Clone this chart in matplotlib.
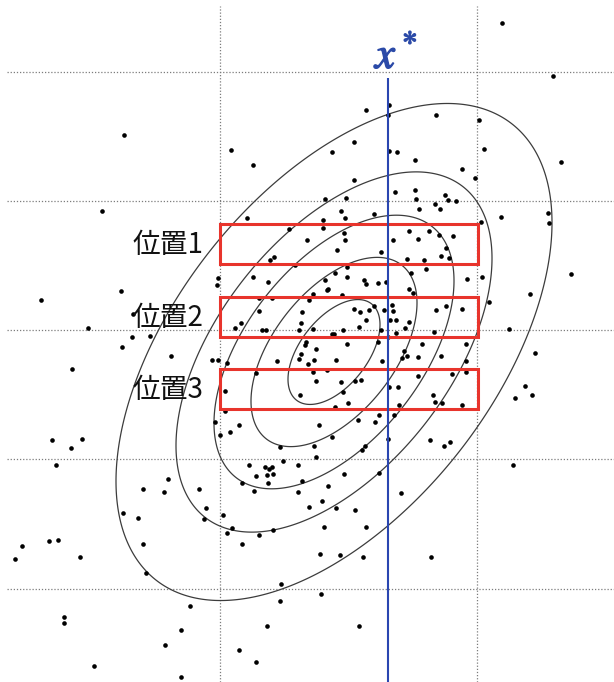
import numpy as np
import matplotlib.pyplot as plt
import matplotlib.patheffects as pe
from matplotlib.patches import Rectangle

plt.rcParams['font.family'] = ['Noto Sans CJK JP', 'DejaVu Sans']
plt.rcParams['mathtext.fontset'] = 'stix'

# sample points (x to the right, y downwards)
pts = [
    (124, 135), (231, 150), (253, 165), (102, 211), (247, 218), (289, 229),
    (502, 23), (553, 76), (366, 110), (389, 105), (388, 115), (436, 115), (479, 120),
    (354, 142), (332, 152), (389, 151), (397, 152), (415, 160), (484, 149), (561, 162),
    (462, 169), (475, 178), (354, 180), (395, 192), (415, 190), (325, 199), (346, 198),
    (416, 199), (445, 195), (448, 200), (456, 201), (435, 204), (440, 209), (419, 209),
    (341, 211), (374, 214), (345, 218), (323, 220), (323, 228), (501, 217), (548, 213),
    (549, 223), (481, 222),
    (307, 240), (270, 260), (274, 257), (295, 265), (218, 278), (217, 285), (253, 277),
    (268, 282), (121, 291), (41, 300), (259, 298), (272, 298), (309, 300), (259, 311),
    (302, 312), (133, 314), (241, 323), (235, 328), (301, 323), (88, 328), (262, 330),
    (266, 330), (299, 330), (132, 337), (150, 336), (122, 347), (306, 342), (305, 345),
    (171, 356), (212, 360), (218, 360), (227, 363), (301, 354), (299, 359), (277, 361),
    (308, 364), (72, 369), (256, 373), (225, 391), (300, 395), (225, 411), (215, 422),
    (239, 425), (230, 432), (220, 435), (52, 440), (82, 439), (71, 448), (280, 447),
    (344, 233), (345, 240), (409, 231), (429, 231), (439, 235), (453, 236), (393, 240),
    (418, 239), (337, 250), (381, 252), (446, 248), (441, 256), (407, 259), (424, 260),
    (449, 258), (347, 267), (426, 269), (335, 273), (347, 277), (411, 273), (467, 279),
    (482, 277), (571, 274), (325, 280), (364, 280), (366, 284), (378, 283), (386, 282),
    (328, 289), (327, 290), (409, 289), (413, 293), (313, 294), (342, 295), (530, 294),
    (489, 302), (354, 309), (360, 312), (369, 310), (374, 306), (384, 310), (392, 305),
    (393, 311), (436, 310), (446, 306), (462, 309), (366, 320), (390, 320), (396, 320),
    (409, 322), (359, 327), (405, 328), (313, 329), (343, 330), (381, 330), (396, 333),
    (434, 332), (509, 329), (332, 334), (334, 334), (388, 337), (378, 342), (347, 344),
    (422, 344), (466, 344), (316, 349), (535, 353), (404, 351), (402, 358), (407, 356),
    (418, 357), (441, 356), (336, 360), (314, 360), (382, 361), (466, 361), (313, 372),
    (327, 370), (466, 372), (418, 376), (452, 374), (316, 381), (361, 380), (355, 381),
    (341, 382), (398, 387), (389, 387), (525, 386), (343, 392), (433, 395), (435, 402),
    (442, 403), (462, 405), (399, 405), (348, 403), (335, 407), (515, 398), (532, 395),
    (394, 415), (379, 415), (375, 422), (358, 420), (319, 425), (332, 437), (388, 439),
    (430, 440), (444, 446), (450, 442), (314, 446), (365, 446), (362, 450), (316, 457),
    (56, 465), (143, 489), (164, 492), (168, 479), (199, 489), (206, 508), (204, 519),
    (223, 515), (249, 465), (265, 467), (269, 469), (272, 467), (267, 475), (273, 474),
    (256, 476), (242, 483), (268, 483), (254, 491), (283, 461), (298, 465), (302, 481),
    (298, 492), (309, 507), (123, 513), (138, 518), (143, 544), (232, 528), (227, 533),
    (259, 535), (273, 530), (242, 544), (22, 546), (49, 541), (58, 540), (15, 559),
    (80, 557), (146, 573), (281, 584), (280, 601), (190, 606), (64, 617), (64, 623),
    (181, 630), (267, 626), (165, 645), (239, 650), (256, 662), (94, 666), (181, 677),
    (344, 474), (379, 473), (328, 486), (322, 501), (336, 508), (355, 510), (401, 493),
    (324, 527), (366, 527), (320, 554), (340, 555), (363, 557), (431, 557), (513, 465),
    (321, 594), (359, 626),
]
px = [p[0] for p in pts]
py = [p[1] for p in pts]

# bivariate normal used for the contour lines
mu = [334, 352]
sd = [100, 114]
rho = -0.52
levels = [0.46, 0.83, 1.20, 1.58, 2.18]

x_star = 388
labels = ['位置1', '位置2', '位置3']
band_top = [224, 297, 369]
band_h = 40
band_x = [220, 478]

grid_x = [220, 477]
grid_y = [72, 201, 330, 459, 589]

fig = plt.figure(figsize=(6.14, 6.82), dpi=100)
ax = fig.add_axes([7 / 614, 0, 607 / 614, 676 / 682])
ax.set_xlim(7, 614)
ax.set_ylim(682, 6)

# dotted grid
ax.set_xticks(grid_x)
ax.set_yticks(grid_y)
ax.tick_params(length=0, labelbottom=False, labelleft=False)
ax.grid(True, color='#7c7c7c', linestyle=(0, (1, 1.5)), linewidth=0.9)
for s in ax.spines.values():
    s.set_visible(False)

# contours
X, Y = np.meshgrid(np.linspace(7, 614, 700), np.linspace(6, 682, 780))
u = (X - mu[0]) / sd[0]
v = (Y - mu[1]) / sd[1]
D = np.sqrt((u**2 - 2 * rho * u * v + v**2) / (1 - rho**2))
ax.contour(X, Y, D, levels=levels, colors='#3c3c3c', linewidths=0.9)

ax.scatter(px, py, s=11, c='black', linewidths=0, zorder=3)

# red slices
for lab, top in zip(labels, band_top):
    ax.add_patch(Rectangle((band_x[0], top), band_x[1] - band_x[0], band_h,
                           fill=False, edgecolor='#e8342c', linewidth=2.2, zorder=4))
    ax.text(band_x[0] - 17, top + band_h / 2 + 1, lab, fontsize=20,
            ha='right', va='center', color='#111111', zorder=5)

# x* line
ax.vlines(x_star, 78, 682, color='#2a46b0', linewidth=1.5, zorder=4)
t = ax.text(x_star + 9, 68, r'$x^*$', fontsize=32, color='#2b4aa8',
            ha='center', va='baseline', zorder=5)
t.set_path_effects([pe.withStroke(linewidth=1.0, foreground='#2b4aa8')])

plt.savefig('out.png', dpi=100)
